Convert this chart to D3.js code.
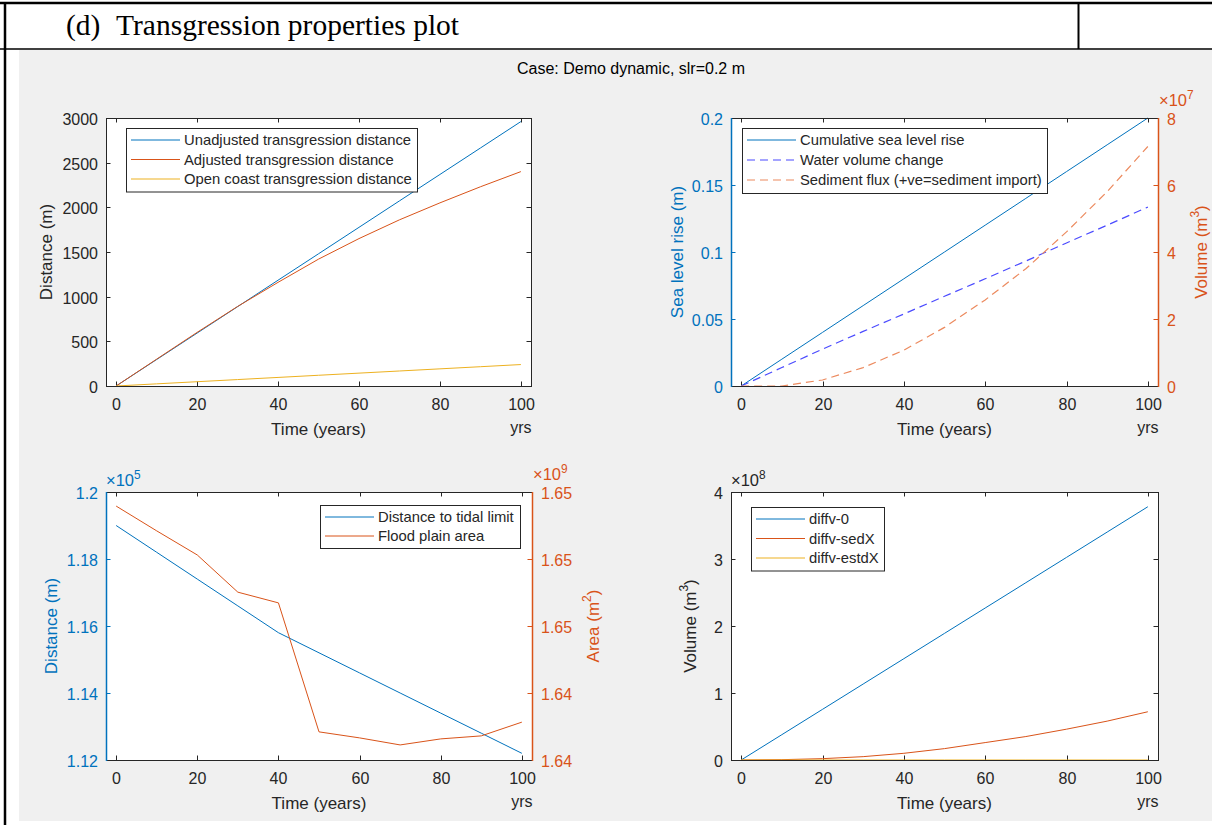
<!DOCTYPE html>
<html lang="en">
<head>
<meta charset="UTF-8">
<title>Transgression properties plot</title>
<script src="https://d3js.org/d3.v7.min.js"></script>
<style>
body { margin: 0; background: #fff; }
svg { display: block; }
.tick-label { font: 16px "Liberation Sans", Arial, sans-serif; }
.ax-label { font: 17px "Liberation Sans", Arial, sans-serif; }
.legend-text { font: 14.8px "Liberation Sans", Arial, sans-serif; fill: #262626; }
</style>
</head>
<body>
<svg width="1212" height="825"></svg>
<script>
// ---- data ----
const years = [0, 10, 20, 30, 40, 50, 60, 70, 80, 90, 100];

// (a) transgression distances, m
const unadjustedDist = [0, 296, 592, 888, 1184, 1480, 1776, 2072, 2368, 2664, 2960];
const adjustedDist   = [0, 300, 600, 890, 1160, 1420, 1650, 1860, 2050, 2230, 2400];
const openCoastDist  = [0, 24, 48, 72, 96, 120, 144, 168, 192, 216, 240];

// (b) sea level rise (m) and volumes (x1e7 m^3)
const seaLevelRise   = [0, 0.02, 0.04, 0.06, 0.08, 0.10, 0.12, 0.14, 0.16, 0.18, 0.20];
const waterVolume    = [0, 0.55, 1.1, 1.63, 2.15, 2.68, 3.2, 3.73, 4.27, 4.8, 5.34];
const sedimentFlux   = [0, 0, 0.18, 0.55, 1.07, 1.75, 2.57, 3.5, 4.6, 5.8, 7.15];

// (c) distance to tidal limit (x1e5 m) and flood plain area (x1e9 m^2)
const tidalLimitDist = [1.19, 1.182, 1.174, 1.166, 1.158, 1.152, 1.146, 1.140, 1.134, 1.128, 1.122];
const floodPlainArea = [1.64958, 1.64884, 1.64812, 1.64701, 1.64669, 1.64284, 1.64266, 1.64245, 1.64263, 1.64272, 1.64313];

// (d) volume differences, x1e8 m^3
const diffv0    = [0, 0.378, 0.756, 1.134, 1.512, 1.89, 2.268, 2.646, 3.024, 3.402, 3.78];
const diffvSedX = [0, 0.005, 0.02, 0.05, 0.1, 0.17, 0.26, 0.35, 0.46, 0.58, 0.72];
const diffvEstdX = [0, 0, 0, 0, 0, 0, 0, 0, 0, 0, 0];

const xTicks = [0, 20, 40, 60, 80, 100];

const BLUE = "#0072BD", ORANGE = "#D95319", YELLOW = "#EDB120", DARK = "#262626";

const svg = d3.select("svg");

// ---- document frame ----
svg.append("rect").attr("x", 19).attr("y", 50).attr("width", 1193).attr("height", 771).attr("fill", "#f0f0f0");
svg.append("line").attr("x1", 0).attr("x2", 1212).attr("y1", 3).attr("y2", 3).attr("stroke", "#000").attr("stroke-width", 2.5);
svg.append("line").attr("x1", 0).attr("x2", 1212).attr("y1", 49).attr("y2", 49).attr("stroke", "#000").attr("stroke-width", 1.5);
svg.append("line").attr("x1", 5).attr("x2", 5).attr("y1", 2).attr("y2", 825).attr("stroke", "#000").attr("stroke-width", 2.5);
svg.append("line").attr("x1", 1078.5).attr("x2", 1078.5).attr("y1", 3).attr("y2", 49).attr("stroke", "#000").attr("stroke-width", 2);
const serif = "29.5px 'Liberation Serif', 'Times New Roman', serif";
svg.append("text").attr("x", 66).attr("y", 35).style("font", serif).attr("fill", "#000").text("(d)");
svg.append("text").attr("x", 116).attr("y", 35).style("font", serif).attr("fill", "#000")
  .text("Transgression properties plot");

svg.append("text").attr("x", 631).attr("y", 74).attr("text-anchor", "middle")
  .style("font", "16px 'Liberation Sans', Arial, sans-serif").attr("fill", "#000")
  .text("Case: Demo dynamic, slr=0.2 m");

// superscript helper: base text + raised exponent
function supText(g, x, y, base, sup, color, size, anchor) {
  const t = g.append("text").attr("x", x).attr("y", y).attr("fill", color)
    .attr("text-anchor", anchor || "start")
    .style("font", size + "px 'Liberation Sans', Arial, sans-serif");
  t.append("tspan").text(base);
  t.append("tspan").attr("dy", -size * 0.45).style("font-size", (size * 0.72) + "px").text(sup);
  return t;
}

function panel(cfg) {
  const g = svg.append("g");
  const x = d3.scaleLinear().domain([-2.5, 102.5]).range(cfg.xr);
  const y = d3.scaleLinear().domain(cfg.yl.domain).range(cfg.yr);
  const y2 = cfg.y2 ? d3.scaleLinear().domain(cfg.y2.domain).range(cfg.yr) : null;
  const [x0, x1] = cfg.xr, [yb, yt] = cfg.yr;

  g.append("rect").attr("x", x0).attr("y", yt).attr("width", x1 - x0).attr("height", yb - yt)
    .attr("fill", "#fff");

  const tl = 4.5;
  // x ticks top + bottom
  xTicks.forEach(v => {
    const px = Math.round(x(v)) + 0.5;
    g.append("line").attr("x1", px).attr("x2", px).attr("y1", yb).attr("y2", yb - tl).attr("stroke", DARK);
    g.append("line").attr("x1", px).attr("x2", px).attr("y1", yt).attr("y2", yt + tl).attr("stroke", DARK);
    g.append("text").attr("class", "tick-label").attr("x", px).attr("y", yb + 24)
      .attr("text-anchor", "middle").attr("fill", DARK).text(v);
  });
  g.append("text").attr("class", "tick-label").attr("x", x(100)).attr("y", yb + 47)
    .attr("text-anchor", "middle").attr("fill", DARK).text("yrs");
  g.append("text").attr("class", "ax-label").attr("x", (x0 + x1) / 2).attr("y", yb + 49)
    .attr("text-anchor", "middle").attr("fill", DARK).text("Time (years)");

  const lc = cfg.yl.color;
  // left y ticks
  cfg.yl.ticks.forEach(v => {
    const py = Math.round(y(v)) + 0.5;
    g.append("line").attr("x1", x0).attr("x2", x0 + tl).attr("y1", py).attr("y2", py).attr("stroke", lc);
    if (!y2) g.append("line").attr("x1", x1).attr("x2", x1 - tl).attr("y1", py).attr("y2", py).attr("stroke", DARK);
    g.append("text").attr("class", "tick-label").attr("x", x0 - 8).attr("y", py + 6)
      .attr("text-anchor", "end").attr("fill", lc).text(cfg.yl.fmt(v));
  });
  if (y2) {
    cfg.y2.ticks.forEach(v => {
      const py = Math.round(y2(v)) + 0.5;
      g.append("line").attr("x1", x1).attr("x2", x1 - tl).attr("y1", py).attr("y2", py).attr("stroke", cfg.y2.color);
      g.append("text").attr("class", "tick-label").attr("x", x1 + 9).attr("y", py + 6)
        .attr("fill", cfg.y2.color).text(cfg.y2.fmt(v));
    });
  }

  // lines
  const clip = "clip" + cfg.id;
  g.append("clipPath").attr("id", clip).append("rect")
    .attr("x", x0).attr("y", yt - 1).attr("width", x1 - x0).attr("height", yb - yt + 2);
  cfg.series.forEach(s => {
    const sc = s.right ? y2 : y;
    const line = d3.line().x((d, i) => x(years[i])).y(d => sc(d));
    g.append("path").datum(s.values).attr("d", line).attr("fill", "none")
      .attr("stroke", s.color).attr("stroke-width", s.width || 1)
      .attr("stroke-dasharray", s.dash || null).attr("clip-path", "url(#" + clip + ")");
  });

  // frame
  g.append("line").attr("x1", x0).attr("x2", x1).attr("y1", yb + 0.5).attr("y2", yb + 0.5).attr("stroke", DARK);
  g.append("line").attr("x1", x0).attr("x2", x1).attr("y1", yt + 0.5).attr("y2", yt + 0.5).attr("stroke", DARK);
  g.append("line").attr("x1", x0 + 0.5).attr("x2", x0 + 0.5).attr("y1", yt).attr("y2", yb + 1).attr("stroke", lc).attr("stroke-width", y2 ? 1.5 : 1);
  g.append("line").attr("x1", x1 + 0.5).attr("x2", x1 + 0.5).attr("y1", yt).attr("y2", yb + 1)
    .attr("stroke", y2 ? cfg.y2.color : DARK).attr("stroke-width", y2 ? 1.5 : 1);

  // axis labels
  const ly = (yt + yb) / 2;
  const lt = g.append("text").attr("class", "ax-label").attr("transform", `translate(${cfg.yl.labelX},${ly}) rotate(-90)`)
    .attr("text-anchor", "middle").attr("fill", lc);
  lt.append("tspan").text(cfg.yl.label);
  if (cfg.yl.labelSup) {
    lt.append("tspan").attr("dy", -8).style("font-size", "12px").text(cfg.yl.labelSup);
    lt.append("tspan").attr("dy", 8).text(")");
  }
  if (cfg.yl.exp) supText(g, x0, yt - 6, "\u00d710", cfg.yl.exp, lc, 16.5);
  if (y2) {
    const rt = g.append("text").attr("class", "ax-label").attr("transform", `translate(${cfg.y2.labelX},${ly}) rotate(-90)`)
      .attr("text-anchor", "middle").attr("fill", cfg.y2.color);
    rt.append("tspan").text(cfg.y2.label);
    rt.append("tspan").attr("dy", -8).style("font-size", "12px").text(cfg.y2.labelSup);
    rt.append("tspan").attr("dy", 8).text(")");
    supText(g, x1 + 1, yt - 12, "\u00d710", cfg.y2.exp, cfg.y2.color, 16.5);
  }

  // legend
  const L = cfg.legend;
  g.append("rect").attr("x", L.x + 0.5).attr("y", L.y + 0.5).attr("width", L.w).attr("height", L.rowH * L.items.length + 5)
    .attr("fill", "#fff").attr("stroke", DARK).attr("stroke-width", 1);
  L.items.forEach((it, i) => {
    const ry = L.y + 12 + i * L.rowH;
    g.append("line").attr("x1", L.x + 5).attr("x2", L.x + 54).attr("y1", ry).attr("y2", ry)
      .attr("stroke", it.color).attr("stroke-dasharray", it.dash || null).attr("stroke-width", it.width || 1);
    g.append("text").attr("class", "legend-text").attr("x", L.x + 58).attr("y", ry + 5).text(it.name);
  });
}

const fmtInt = d => d;
panel({
  id: "a", xr: [106, 531], yr: [386, 118],
  yl: { domain: [0, 3000], ticks: d3.range(0, 3001, 500), fmt: fmtInt, color: DARK, label: "Distance (m)", labelX: 52 },
  series: [
    { values: unadjustedDist, color: BLUE },
    { values: adjustedDist, color: ORANGE },
    { values: openCoastDist, color: YELLOW }
  ],
  legend: { x: 126, y: 128, w: 291, rowH: 19.5, items: [
    { name: "Unadjusted transgression distance", color: BLUE },
    { name: "Adjusted transgression distance", color: ORANGE },
    { name: "Open coast transgression distance", color: YELLOW }
  ] }
});

const BLUE_DASH = "#4a4aff", ORANGE_DASH = "#ec8a5e";
panel({
  id: "b", xr: [731, 1158], yr: [386, 118],
  yl: { domain: [0, 0.2], ticks: [0, 0.05, 0.1, 0.15, 0.2], fmt: d => d, color: BLUE, label: "Sea level rise (m)", labelX: 683 },
  y2: { domain: [0, 8], ticks: [0, 2, 4, 6, 8], fmt: fmtInt, color: ORANGE, label: "Volume (m", labelSup: "3", labelX: 1207, exp: "7" },
  series: [
    { values: seaLevelRise, color: BLUE },
    { values: waterVolume, color: BLUE_DASH, dash: "8,5", right: true, width: 1.2 },
    { values: sedimentFlux, color: ORANGE_DASH, dash: "8,5", right: true, width: 1.2 }
  ],
  legend: { x: 742, y: 128, w: 305, rowH: 20, items: [
    { name: "Cumulative sea level rise", color: BLUE },
    { name: "Water volume change", color: BLUE_DASH, dash: "8,5", width: 1.2 },
    { name: "Sediment flux (+ve=sediment import)", color: ORANGE_DASH, dash: "8,5", width: 1.2 }
  ] }
});

panel({
  id: "c", xr: [106, 532], yr: [760, 492],
  yl: { domain: [1.12, 1.2], ticks: [1.12, 1.14, 1.16, 1.18, 1.2], fmt: d => d3.format(".3~f")(d), color: BLUE, label: "Distance (m)", labelX: 57, exp: "5" },
  y2: { domain: [1.642, 1.650], ticks: [1.642, 1.644, 1.646, 1.648, 1.650], fmt: d => d.toFixed(2), color: ORANGE, label: "Area (m", labelSup: "2", labelX: 599, exp: "9" },
  series: [
    { values: tidalLimitDist, color: BLUE },
    { values: floodPlainArea, color: ORANGE, right: true }
  ],
  legend: { x: 320, y: 505, w: 200, rowH: 19, items: [
    { name: "Distance to tidal limit", color: BLUE },
    { name: "Flood plain area", color: ORANGE }
  ] }
});

panel({
  id: "d", xr: [731, 1158], yr: [760, 492],
  yl: { domain: [0, 4], ticks: [0, 1, 2, 3, 4], fmt: fmtInt, color: DARK, label: "Volume (m", labelSup: "3", labelX: 696, exp: "8" },
  series: [
    { values: diffv0, color: BLUE },
    { values: diffvSedX, color: ORANGE },
    { values: diffvEstdX, color: YELLOW }
  ],
  legend: { x: 751, y: 507, w: 133, rowH: 19.5, items: [
    { name: "diffv-0", color: BLUE },
    { name: "diffv-sedX", color: ORANGE },
    { name: "diffv-estdX", color: YELLOW }
  ] }
});
</script>
</body>
</html>
